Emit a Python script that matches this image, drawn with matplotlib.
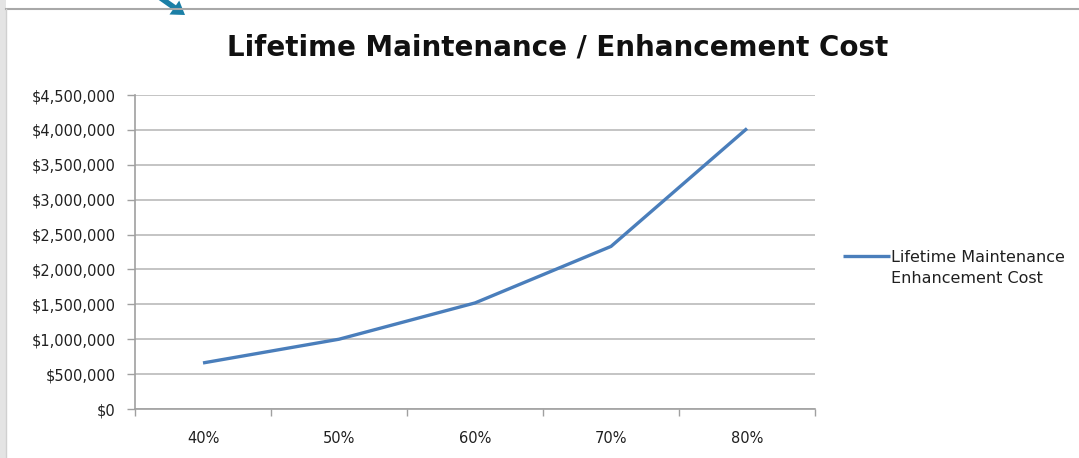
import matplotlib.pyplot as plt
from matplotlib.patches import Rectangle, FancyArrow
from matplotlib.lines import Line2D
from matplotlib.ticker import FuncFormatter, FixedLocator
import numpy as np

plt.rcParams['font.family'] = ['DejaVu Sans']

# maintenance / enhancement cost by coverage level
levels = ["40%", "50%", "60%", "70%", "80%"]
cost = [660000, 1000000, 1520000, 2330000, 4020000]
y_ticks = np.arange(0, 4500001, 500000)

title = "Lifetime Maintenance / Enhancement Cost"
series_name = "Lifetime Maintenance\nEnhancement Cost"

fig = plt.figure(figsize=(10.79, 4.58), dpi=100)
fig.patch.set_facecolor("white")

# slide frame: grey strip on the left and border line along the top
fig.add_artist(Rectangle((0, 0), 6 / 1079, 1, transform=fig.transFigure,
                         facecolor="#e4e4e4", edgecolor="none"))
fig.add_artist(Line2D([6 / 1079, 1], [1 - 9 / 458] * 2, transform=fig.transFigure,
                      color="#a8a8a8", lw=1.5))
fig.add_artist(Line2D([6 / 1079] * 2, [0, 1 - 9 / 458], transform=fig.transFigure,
                      color="#d0d0d0", lw=1))
# teal pointer arrow coming in from above (inches)
fig.add_artist(FancyArrow(1.55, 4.64, 0.30, -0.21, width=0.055, head_width=0.17,
                          head_length=0.13, length_includes_head=True,
                          transform=fig.dpi_scale_trans, color="#1b7fa6", lw=0))

ax = fig.add_axes([135 / 1079, 1 - 409 / 458, 680 / 1079, 314 / 458])
x = np.arange(len(levels))
ax.plot(x, cost, color="#4a7ebb", lw=2.4, solid_capstyle="butt", label=series_name)

ax.set_xlim(-0.5, len(levels) - 0.5)
ax.set_ylim(0, 4500000)
ax.set_yticks(y_ticks)
ax.yaxis.set_major_formatter(FuncFormatter(lambda v, p: "${:,.0f}".format(v)))
ax.grid(axis="y", color="#b4b4b4", lw=1.1)
ax.set_axisbelow(True)

ax.xaxis.set_major_locator(FixedLocator(np.arange(-0.5, len(levels), 1.0)))
ax.xaxis.set_minor_locator(FixedLocator(x))
ax.set_xticklabels([])
ax.set_xticklabels(levels, minor=True)
ax.tick_params(axis="x", which="major", length=5, color="#a0a0a0", width=1)
ax.tick_params(axis="x", which="minor", length=0, pad=16, labelsize=10.5, labelcolor="#202020")
ax.tick_params(axis="y", length=6, color="#a0a0a0", width=1, pad=8,
               labelsize=10.5, labelcolor="#202020")

for side in ["top", "right"]:
    ax.spines[side].set_visible(False)
for side in ["left", "bottom"]:
    ax.spines[side].set_color("#a0a0a0")
    ax.spines[side].set_linewidth(1.2)

fig.text(558 / 1079, 1 - 48 / 458, title, ha="center", va="center",
         fontsize=20, fontweight="bold", color="#111111")

leg = ax.legend(loc="center left", bbox_to_anchor=(829 / 1079, 1 - 268 / 458),
                bbox_transform=fig.transFigure, frameon=False, fontsize=11.5,
                handlelength=2.9, handletextpad=0.1, labelcolor="#202020")
for t in leg.get_texts():
    t.set_linespacing(1.55)
# keep the legend key level with the first line of the label
handle = leg.get_lines()[0]
handle.set_ydata(np.asarray(handle.get_ydata()) + 9)

fig.savefig("out.png", dpi=100)
